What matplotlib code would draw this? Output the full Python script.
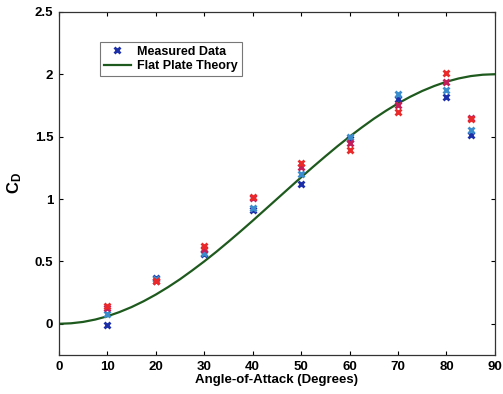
import matplotlib
matplotlib.use('Agg')
import matplotlib.pyplot as plt

plt.rcParams['font.family'] = ['Liberation Sans', 'DejaVu Sans']
plt.rcParams['font.weight'] = 'bold'
plt.rcParams['mathtext.fontset'] = 'custom'
plt.rcParams['mathtext.it'] = 'Liberation Sans:bold'
plt.rcParams['mathtext.rm'] = 'Liberation Sans:bold'

# measured drag coefficient, four runs
angles = [10, 20, 30, 40, 50, 60, 70, 80, 85]
run_blue = [-0.01, 0.37, 0.56, 0.91, 1.12, 1.48, 1.80, 1.82, 1.51]
run_light = [0.08, 0.36, 0.57, 0.93, 1.20, 1.50, 1.84, 1.87, 1.55]
run_purple = [0.13, 0.34, 0.60, 1.01, 1.26, 1.45, 1.75, 1.94, 1.65]
run_red = [0.14, 0.34, 0.62, 1.02, 1.29, 1.39, 1.70, 2.01, 1.64]

# flat plate theory
theory_angle = [0, 2.5, 5, 7.5, 10, 12.5, 15, 17.5, 20, 22.5, 25, 27.5, 30, 32.5,
                35, 37.5, 40, 42.5, 45, 47.5, 50, 52.5, 55, 57.5, 60, 62.5, 65,
                67.5, 70, 72.5, 75, 77.5, 80, 82.5, 85, 87.5, 90]
theory_cd = [0.0, 0.004, 0.015, 0.034, 0.06, 0.094, 0.134, 0.181, 0.234, 0.293,
             0.357, 0.427, 0.5, 0.577, 0.658, 0.741, 0.826, 0.913, 1.0, 1.087,
             1.174, 1.259, 1.342, 1.423, 1.5, 1.573, 1.643, 1.707, 1.766, 1.819,
             1.866, 1.906, 1.94, 1.966, 1.985, 1.996, 2.0]

fig = plt.figure(figsize=(5.03, 3.94), dpi=100)
ax = fig.add_axes([0.117, 0.099, 0.867, 0.871])

mk = dict(marker='x', linestyle='none', markersize=5, markeredgewidth=2)
ax.plot(angles, run_blue, color='#1c2fa8', label='Measured Data', zorder=3, **mk)
ax.plot(angles, run_light, color='#3a8ccc', zorder=3, **mk)
ax.plot(angles, run_purple, color='#c21e5a', zorder=3, **mk)
ax.plot(angles, run_red, color='#ea2a2a', zorder=3, **mk)
ax.plot(theory_angle, theory_cd, color='#1e5a1e', linewidth=1.6, label='Flat Plate Theory', zorder=2)

ax.set_xlim(0, 90)
ax.set_ylim(-0.25, 2.5)
ax.set_xticks(range(0, 91, 10))
ax.set_yticks([0, 0.5, 1, 1.5, 2, 2.5])
ax.set_yticklabels(['0', '0.5', '1', '1.5', '2', '2.5'])
ax.tick_params(direction='in', length=3, width=0.8, labelsize=9.5,
               top=True, right=True, pad=4)
for s in ax.spines.values():
    s.set_linewidth(0.9)
    s.set_color('#333333')

ax.set_xlabel('Angle-of-Attack (Degrees)', fontsize=9.5, fontweight='bold', labelpad=1)
ax.set_ylabel(r'$C_D$', fontsize=12, labelpad=8)

leg = ax.legend(loc='upper left', bbox_to_anchor=(0.08, 0.93), fontsize=9,
                frameon=True, fancybox=False, edgecolor='#555555',
                borderpad=0.3, labelspacing=0.2, handlelength=2.2, handletextpad=0.5)
leg.get_frame().set_linewidth(0.8)

fig.savefig('out.png', dpi=100)
